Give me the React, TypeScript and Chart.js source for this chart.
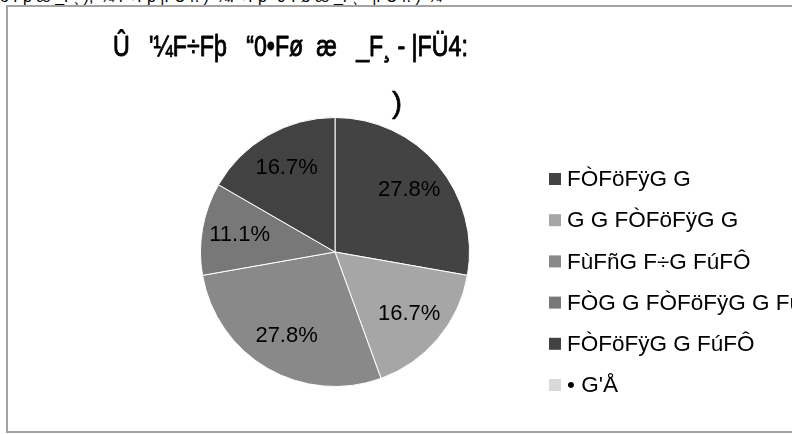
import React, { useEffect, useRef } from 'react';
import { Chart, registerables } from 'chart.js';

Chart.register(...registerables);

const headerText = "ó Fþ æ _F¸ ), '¼ F÷Fþ |FÜ4: ) '¼F÷Fþ “0•Fø æ _F¸ - |FÜ4: ) '¼";
const titleLines = ["Û   '¼F÷Fþ   “0•Fø  æ   _F¸ - |FÜ4:", ")"];
const categories = [
  'FÒFöFÿG G',
  'G G FÒFöFÿG G',
  'FùFñG F÷G FúFÔ',
  'FÒG G FÒFöFÿG G FúFÔ',
  'FÒFöFÿG G FúFÔ',
  "• G'Å",
];
const values = [5, 3, 5, 2, 3, 0];
const colors = ['#434343', '#a6a6a6', '#898989', '#787878', '#424242', '#d9d9d9'];

const FONT = '"Liberation Sans", Arial, sans-serif';

export default function App() {
  const ref = useRef<HTMLCanvasElement>(null);

  useEffect(() => {
    if (!ref.current) return;
    const decor = {
      id: 'decor',
      afterDatasetsDraw(chart: any) {
        const ctx = chart.ctx as CanvasRenderingContext2D;
        const meta = chart.getDatasetMeta(0);
        const total = values.reduce((a, b) => a + b, 0);
        ctx.save();
        // percentage labels
        ctx.font = `22px ${FONT}`;
        ctx.fillStyle = '#000';
        ctx.textAlign = 'center';
        ctx.textBaseline = 'middle';
        meta.data.forEach((arc: any, i: number) => {
          if (!values[i]) return;
          const p = arc.getProps(['x', 'y', 'startAngle', 'endAngle', 'outerRadius'], true);
          const mid = (p.startAngle + p.endAngle) / 2;
          const r = p.outerRadius * 0.72;
          ctx.fillText(((values[i] / total) * 100).toFixed(1) + '%', p.x + Math.cos(mid) * r, p.y + Math.sin(mid) * r);
        });
        // title (condensed, heavier face)
        ctx.font = `29px ${FONT}`;
        ctx.textBaseline = 'alphabetic';
        ctx.textAlign = 'left';
        ctx.strokeStyle = '#000';
        ctx.lineJoin = 'round';
        ctx.save();
        ctx.translate(113, 56);
        ctx.scale(0.8, 1);
        ctx.lineWidth = 0.9;
        ctx.fillText(titleLines[0], 0, 0);
        ctx.strokeText(titleLines[0], 0, 0);
        ctx.restore();
        ctx.textAlign = 'center';
        ctx.font = `30px ${FONT}`;
        ctx.lineWidth = 0.7;
        ctx.fillText(titleLines[1], 397, 113);
        ctx.strokeText(titleLines[1], 397, 113);
        // legend
        ctx.font = `22.5px ${FONT}`;
        ctx.textAlign = 'left';
        ctx.textBaseline = 'middle';
        const ca = chart.chartArea;
        const lx = ca.right + 79;
        categories.forEach((c, i) => {
          const y = 179 + i * 41.2;
          ctx.fillStyle = colors[i];
          ctx.fillRect(lx, y - 6, 12, 12);
          ctx.fillStyle = '#000';
          ctx.fillText(c, lx + 18, y + 1);
        });
        ctx.restore();
      },
    };
    const chart = new Chart(ref.current, {
      type: 'pie',
      data: {
        labels: categories,
        datasets: [
          {
            data: values,
            backgroundColor: colors,
            borderColor: '#ffffff',
            borderWidth: 1,
          },
        ],
      },
      options: {
        responsive: false,
        animation: false,
        layout: { padding: { left: 200, right: 322, top: 117, bottom: 47 } },
        plugins: {
          legend: { display: false },
          title: { display: false },
          tooltip: { enabled: false },
        },
      },
      plugins: [decor],
    });
    return () => chart.destroy();
  }, []);

  return (
    <div
      style={{
        position: 'fixed',
        left: 0,
        top: 0,
        width: 792,
        height: 434,
        overflow: 'hidden',
        background: '#fff',
      }}
    >
      <div
        style={{
          position: 'absolute',
          left: 0,
          top: -12,
          whiteSpace: 'nowrap',
          font: `16px ${FONT}`,
          color: '#000',
        }}
      >
        {headerText}
      </div>
      <div
        style={{
          position: 'absolute',
          left: 6,
          top: 5,
          width: 900,
          height: 428,
          boxSizing: 'border-box',
          border: '2px solid #a3a3a3',
        }}
      />
      <canvas
        ref={ref}
        width={792}
        height={434}
        style={{ position: 'absolute', left: 0, top: 0, width: 792, height: 434 }}
      />
    </div>
  );
}
